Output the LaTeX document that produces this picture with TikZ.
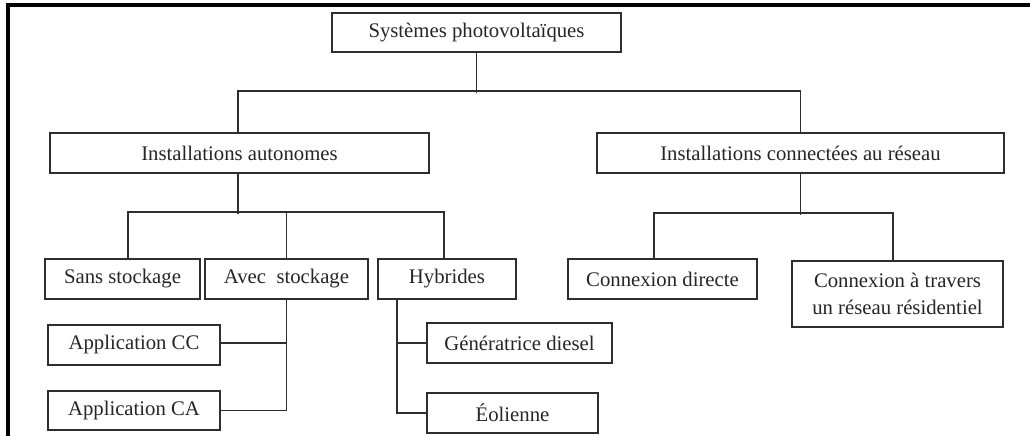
\documentclass[tikz,border=0pt]{standalone}
\usepackage{fontspec}
\setmainfont{Liberation Serif}
\usepackage{tikz}
\usetikzlibrary{positioning,calc}
\definecolor{boxline}{rgb}{0.18,0.18,0.18}
\definecolor{boxtext}{rgb}{0.15,0.15,0.15}

\begin{document}
\begin{tikzpicture}[
    every node/.style={font=\fontsize{11.8}{15.8}\selectfont, text=boxtext},
    pvbox/.style={draw=boxline, line width=1pt, fill=white,
      minimum height=0.80cm, inner sep=2pt, align=center},
    tree/.style={draw=boxline, line width=1pt}
  ]
        \useasboundingbox (0,0) rectangle (20.6,-8.72);

        % frame
        \draw[line width=2pt] (0.16,-8.72) -- (0.16,-0.10) -- (20.6,-0.10);

        % top
        \node[pvbox, minimum width=5.78cm, minimum height=0.78cm] (pv) at (9.53,-0.65) {Systèmes photovoltaïques};

        % two families
        \node[pvbox, minimum width=7.58cm] (auto) at (4.79,-3.06) {Installations autonomes};
        \node[pvbox, minimum width=8.14cm] (reseau) at (16.01,-3.06) {Installations connectées au réseau};

        % autonomous
        \node[pvbox, minimum width=3.10cm] (sans) at (2.45,-5.58) {Sans stockage};
        \node[pvbox, minimum width=3.26cm] (avec) at (5.73,-5.58) {Avec~~stockage};
        \node[pvbox, minimum width=2.76cm] (hybr) at (8.94,-5.58) {Hybrides};
        \node[pvbox, minimum width=3.44cm] (appcc) at (2.68,-6.90) {Application CC};
        \node[pvbox, minimum width=3.44cm, minimum height=0.78cm] (appca) at (2.68,-8.21) {Application CA};
        \node[pvbox, minimum width=3.70cm] (diesel) at (10.39,-6.86) {Génératrice diesel};
        \node[pvbox, minimum width=3.42cm] (eol) at (10.25,-8.26) {Éolienne};

        % grid connected
        \node[pvbox, minimum width=3.78cm] (direct) at (13.25,-5.58) {Connexion directe};
        \node[pvbox, minimum width=4.22cm, minimum height=1.32cm] (resid) at (17.95,-5.88) {Connexion à travers\\un réseau résidentiel};

        % links
        \draw[tree] (pv.south) -- ++(0,-0.80);
        \draw[tree] ([xshift=-0.03cm]auto.north) -- ++(0,0.82) -| (reseau.north);

        \draw[tree] ([xshift=-0.03cm]auto.south) -- ++(0,-0.80);
        \draw[tree] ([xshift=0.11cm]sans.north) -- ++(0,0.92) -| ([xshift=-0.06cm]hybr.north);
        \draw[tree] (avec.north) -- ++(0,0.92);

        \draw[tree] (avec.south) |- (appca.east);
        \draw[tree] ([yshift=0.04cm]appcc.east) -| (avec.south);

        \draw[tree] ([xshift=0.40cm]hybr.south west) |- (eol.west);
        \draw[tree] (diesel.west) -| ([xshift=0.40cm]hybr.south west);

        \draw[tree] (reseau.south) -- ++(0,-0.82);
        \draw[tree] ([xshift=-0.17cm]direct.north) -- ++(0,0.90) -| ([xshift=-0.09cm]resid.north);
      \end{tikzpicture}
\end{document}
